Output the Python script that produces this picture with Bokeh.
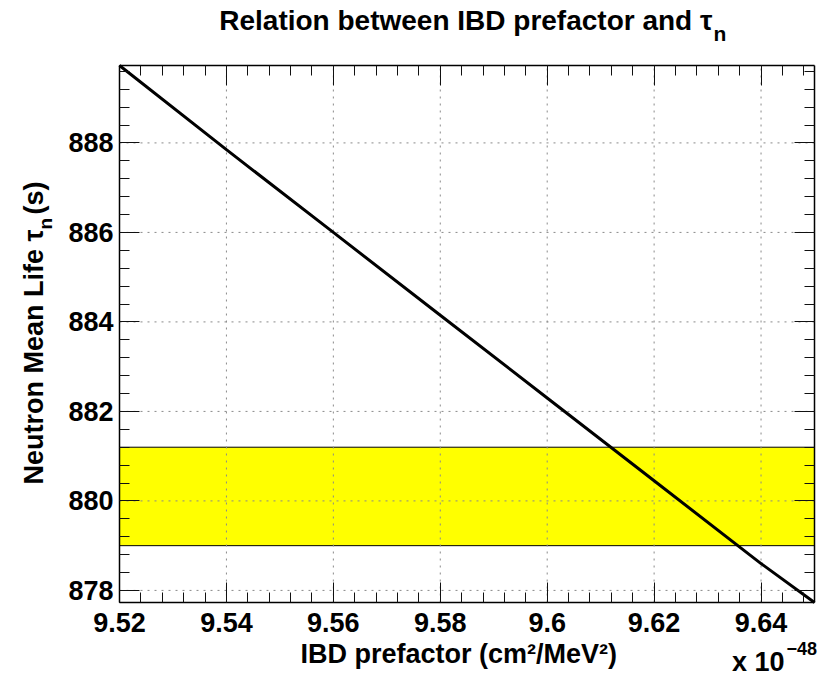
import numpy as np
from bokeh.plotting import figure
from bokeh.models import Range1d, FixedTicker, LinearAxis, Label, Grid
from bokeh.embed import file_html
from bokeh.resources import INLINE

# IBD prefactor (in units of 1e-48 cm^2/MeV^2) and the neutron mean life it implies (s)
prefactor = [9.52, 9.54, 9.56, 9.58, 9.60, 9.62, 9.64, 9.65]
tau_n = [889.73, 887.85, 886.00, 884.15, 882.30, 880.45, 878.60, 877.73]

# measured neutron lifetime band (s)
tau_band_low = 879.0
tau_band_high = 881.2

# axis ticks
x_tick_values = [9.52, 9.54, 9.56, 9.58, 9.60, 9.62, 9.64]
x_tick_labels = ["9.52", "9.54", "9.56", "9.58", "9.6", "9.62", "9.64"]
y_tick_values = [878, 880, 882, 884, 886, 888]
y_tick_labels = ["878", "880", "882", "884", "886", "888"]

title_text = "Relation between IBD prefactor and \u03c4"
title_sub = "n"
x_title = "IBD prefactor (cm\u00b2/MeV\u00b2)"
x_exponent_base = "x 10"
x_exponent = "\u221248"
y_title = "Neutron Mean Life \u03c4"
y_title_sub = "n"
y_title_unit = "(s)"

# ---- layout (pixels) ----
W, H = 831, 677
BOX_L, BOX_R, BOX_T, BOX_B = 119, 814, 65, 602   # plotting box inside the canvas
FONT = "Liberation Sans"

x_lo, x_hi = prefactor[0], prefactor[-1]
y_lo, y_hi = min(tau_n), max(tau_n)

# the frame spans the whole canvas; ranges are padded so that the
# data box lands on the wanted pixels and the axes sit on its edges
sx = (x_hi - x_lo) / (BOX_R - BOX_L)
sy = (y_hi - y_lo) / (BOX_B - BOX_T)
x_range = Range1d(x_lo - BOX_L * sx, x_hi + (W - BOX_R) * sx)
y_range = Range1d(y_lo - (H - BOX_B) * sy, y_hi + BOX_T * sy)

p = figure(
    width=W, height=H, x_range=x_range, y_range=y_range,
    x_axis_location=None, y_axis_location=None,
    output_backend="svg", toolbar_location=None,
    min_border=0, min_border_left=0, min_border_right=0,
    min_border_top=0, min_border_bottom=0,
    background_fill_color="white", border_fill_color="white",
)
p.center = [r for r in p.center if not isinstance(r, Grid)]
p.outline_line_color = None

x_minor = [round(v, 3) for v in np.arange(x_lo, x_hi + 1e-9, 0.004)]
y_minor = [round(v, 2) for v in np.arange(877.6, y_hi + 1e-9, 0.4) if v >= y_lo]
xt = FixedTicker(ticks=x_tick_values, minor_ticks=x_minor)
yt = FixedTicker(ticks=y_tick_values, minor_ticks=y_minor)


def make_axis(ticker, bounds, location, show_labels, overrides=None):
    ax = LinearAxis(
        ticker=ticker, bounds=bounds, fixed_location=location,
        axis_line_color="black", axis_line_width=1.5,
        major_tick_in=20, major_tick_out=0,
        minor_tick_in=10, minor_tick_out=0,
        major_tick_line_color="#111111", minor_tick_line_color="#111111",
        major_tick_line_width=1, minor_tick_line_width=1,
    )
    if show_labels:
        ax.major_label_overrides = overrides
        ax.major_label_text_font = FONT
        ax.major_label_text_font_style = "bold"
        ax.major_label_text_font_size = "27px"
        ax.major_label_text_color = "black"
    else:
        ax.major_label_text_color = None
        ax.major_label_text_font_size = "0px"
    return ax


bottom_axis = make_axis(xt, (x_lo, x_hi), y_lo, True, dict(zip(x_tick_values, x_tick_labels)))
bottom_axis.major_label_standoff = 10
left_axis = make_axis(yt, (y_lo, y_hi), x_lo, True, dict(zip(y_tick_values, y_tick_labels)))
left_axis.major_label_standoff = 6
p.add_layout(bottom_axis, "below")
p.add_layout(left_axis, "left")
p.add_layout(make_axis(xt, (x_lo, x_hi), y_hi, False), "above")
p.add_layout(make_axis(yt, (y_lo, y_hi), x_hi, False), "right")

# lifetime band
p.quad(left=[x_lo], right=[x_hi], bottom=[tau_band_low], top=[tau_band_high],
       fill_color="#ffff00", line_color="black", line_width=1)

# dotted grid at the major ticks, confined to the data box
grid_style = dict(line_color="#8a8a8a", line_width=1, line_dash="2 5")
p.segment(x0=x_tick_values, y0=[y_lo] * len(x_tick_values),
          x1=x_tick_values, y1=[y_hi] * len(x_tick_values), **grid_style)
p.segment(x0=[x_lo] * len(y_tick_values), y0=y_tick_values,
          x1=[x_hi] * len(y_tick_values), y1=y_tick_values, **grid_style)

# prefactor -> lifetime relation
p.line(prefactor, tau_n, line_color="black", line_width=3)


def canvas_label(text, cx, cy, size, align="left", angle=0.0):
    # cx, cy are canvas pixels measured from the top-left corner
    return Label(
        x=cx, y=H - cy, x_units="screen", y_units="screen",
        text=text, text_font=FONT, text_font_style="bold",
        text_font_size=f"{size}px", text_color="black",
        text_align=align, text_baseline="alphabetic", angle=angle,
    )


# title with subscript
p.add_layout(canvas_label(title_text, 712, 20, 28, align="right"))
p.add_layout(canvas_label(title_sub, 713, 33, 21))

# x axis title and exponent
p.add_layout(canvas_label(x_title, 300, 653, 27))
p.add_layout(canvas_label(x_exponent_base, 784, 661, 27, align="right"))
p.add_layout(canvas_label(x_exponent, 786, 648, 18))

# rotated y axis title
rot = np.pi / 2
p.add_layout(canvas_label(y_title, 33, 229, 27, align="right", angle=rot))
p.add_layout(canvas_label(y_title_sub, 45, 229, 19, align="left", angle=rot))
p.add_layout(canvas_label(y_title_unit, 33, 214, 27, align="left", angle=rot))

open("out.html", "w").write(file_html(p, INLINE))
